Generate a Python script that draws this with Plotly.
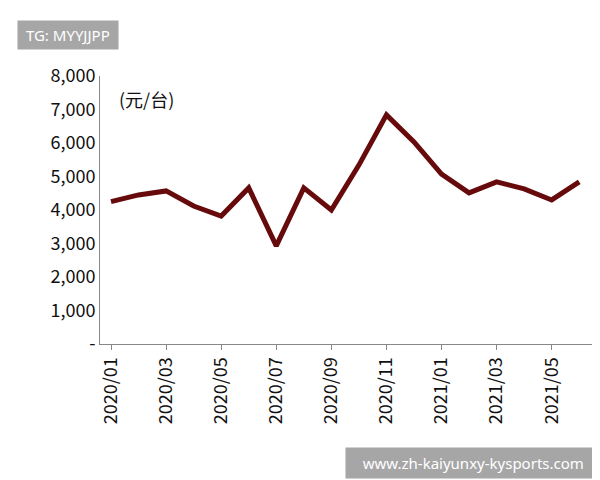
import plotly.graph_objects as go

months = ["2020/01","2020/02","2020/03","2020/04","2020/05","2020/06","2020/07","2020/08","2020/09",
          "2020/10","2020/11","2020/12","2021/01","2021/02","2021/03","2021/04","2021/05","2021/06"]
values = [4250,4450,4570,4120,3820,4660,2930,4660,4000,5340,6840,6030,5070,4510,4840,4630,4300,4840]
tick_months = months[::2]
y_ticks = [0,1000,2000,3000,4000,5000,6000,7000,8000]
y_labels = ["-","1,000","2,000","3,000","4,000","5,000","6,000","7,000","8,000"]

fig = go.Figure(go.Scatter(x=months, y=values, mode="lines",
                           line=dict(color="#660a0c", width=5)))
font = "Noto Sans CJK SC"
fig.update_layout(
    width=600, height=480, plot_bgcolor="white", paper_bgcolor="white",
    margin=dict(l=92, r=15, t=68, b=144), showlegend=False,
    font=dict(family=font, size=18, color="#111"),
    xaxis=dict(type="category", tickvals=tick_months, ticktext=tick_months, tickangle=-90,
               showline=True, linecolor="#888", ticks="outside", tickcolor="#888",
               ticklen=5, showgrid=False, range=[-0.4, 17.5], automargin=False),
    yaxis=dict(range=[0, 8000], tickvals=y_ticks, ticktext=y_labels, showline=True,
               linecolor="#888", showgrid=False, zeroline=False, ticks="", automargin=False),
)
fig.add_annotation(text="(元/台)", x=0.035, y=0.97, xref="paper", yref="paper", showarrow=False,
                   xanchor="left", yanchor="top", font=dict(size=18))
fig.add_annotation(text=" TG: MYYJJPP ", xref="paper", yref="paper", x=-0.168, y=1.21,
                   xanchor="left", yanchor="top", showarrow=False, bgcolor="#a6a6a6",
                   font=dict(color="white", size=15, family="Noto Sans"), borderpad=4)
fig.add_annotation(text="   www.zh-kaiyunxy-kysports.com  ", xref="paper", yref="paper", x=1.01, y=-0.385,
                   xanchor="right", yanchor="top", showarrow=False, bgcolor="#a6a6a6",
                   font=dict(color="white", size=15, family="Noto Sans"), borderpad=5)
fig.write_html("out.html")
